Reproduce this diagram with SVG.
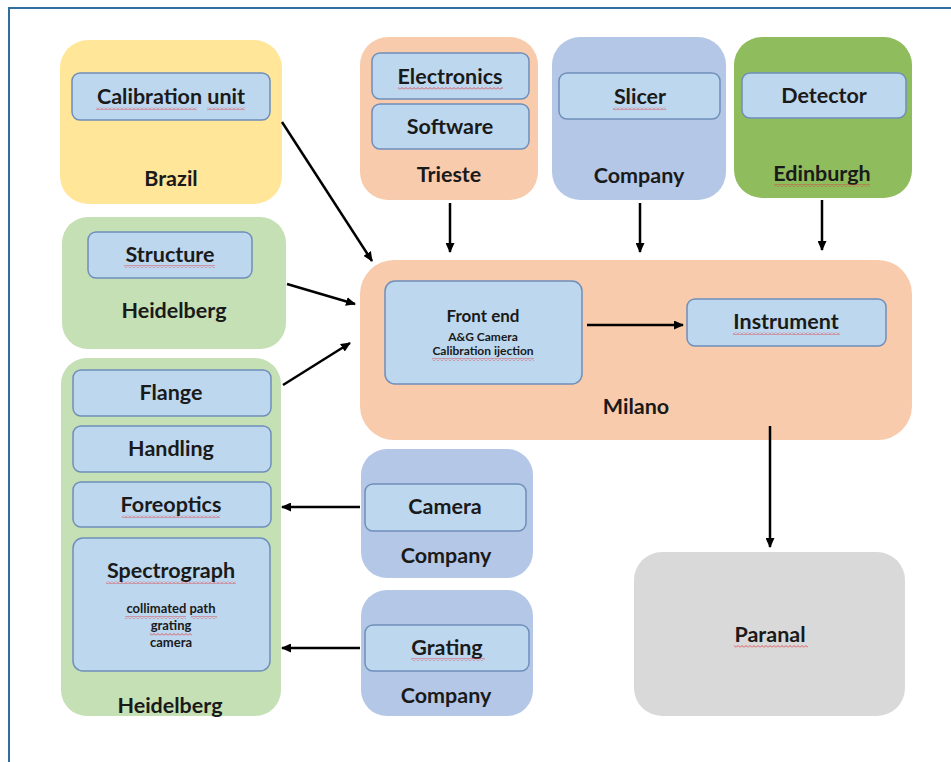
<svg xmlns="http://www.w3.org/2000/svg" width="951" height="762" viewBox="0 0 951 762">
<defs>
<style>
.t{font-family:Lato,"Liberation Sans",sans-serif;font-weight:bold;fill:#1a1a1a;text-anchor:middle;font-size:21.5px}
.m{font-size:17px}
.s{font-size:12px}
.s2{font-size:13px}
.in{fill:#BDD7EE;stroke:#6F8FBA;stroke-width:1.5}
.c{stroke:#000;stroke-width:2.5;fill:none;marker-end:url(#ah)}
.sq{fill:url(#wv)}
</style>
<marker id="ah" markerWidth="10" markerHeight="9" refX="9" refY="4.5" orient="auto" markerUnits="userSpaceOnUse">
<path d="M0,0 L10,4.5 L0,9 Z" fill="#000"/>
</marker>
<pattern id="wv" width="4" height="3" patternUnits="userSpaceOnUse">
<path d="M0,2.5 L2,0.5 L4,2.5" stroke="#E0363B" stroke-width="0.8" fill="none"/>
</pattern>
</defs>
<rect width="951" height="762" fill="#fff"/>
<path d="M9,762 V8 H951" stroke="#2F6F9F" stroke-width="2" fill="none"/>

<g id="brazil">
<rect x="60" y="40" width="222" height="164" rx="28" fill="#FFE699"/>
<rect class="in" x="72" y="73" width="198" height="47" rx="8"/>
<text class="t" x="171" y="104">Calibration unit</text>
<rect class="sq" x="96" y="107" width="101" height="3"/>
<rect class="sq" x="207" y="107" width="38" height="3"/>
<text class="t" x="171" y="186">Brazil</text>
</g>

<g id="heidelberg-structure">
<rect x="62" y="217" width="224" height="132" rx="26" fill="#C5E0B4"/>
<rect class="in" x="88" y="232" width="164" height="46" rx="8"/>
<text class="t" x="170" y="262">Structure</text>
<rect class="sq" x="124" y="265" width="91" height="3"/>
<text class="t" x="174" y="318">Heidelberg</text>
</g>

<g id="heidelberg-spectrograph">
<rect x="61" y="358" width="220" height="358" rx="26" fill="#C5E0B4"/>
<rect class="in" x="73" y="370" width="198" height="46" rx="8"/>
<text class="t" x="171" y="400">Flange</text>
<rect class="in" x="73" y="426" width="198" height="46" rx="8"/>
<text class="t" x="171" y="456">Handling</text>
<rect class="in" x="73" y="482" width="198" height="45" rx="8"/>
<text class="t" x="171" y="512">Foreoptics</text>
<rect class="sq" x="122" y="515" width="98" height="3"/>
<rect class="in" x="73" y="538" width="197" height="133" rx="10"/>
<text class="t" x="171" y="578">Spectrograph</text>
<rect class="sq" x="106" y="581" width="130" height="3"/>
<text class="t s2" x="171" y="613">collimated path</text>
<rect class="sq" x="125" y="616" width="61" height="3"/>
<rect class="sq" x="191" y="616" width="26" height="3"/>
<text class="t s2" x="171" y="630">grating</text>
<rect class="sq" x="150" y="633" width="42" height="3"/>
<text class="t s2" x="171" y="647">camera</text>
<text class="t" x="170" y="713">Heidelberg</text>
</g>

<g id="trieste">
<rect x="360" y="37" width="178" height="163" rx="28" fill="#F8CBAD"/>
<rect class="in" x="372" y="53" width="157" height="46" rx="8"/>
<text class="t" x="450" y="84">Electronics</text>
<rect class="sq" x="398" y="87" width="105" height="3"/>
<rect class="in" x="372" y="104" width="157" height="45" rx="8"/>
<text class="t" x="450" y="134">Software</text>
<text class="t" x="449" y="182">Trieste</text>
</g>

<g id="company-slicer">
<rect x="552" y="37" width="174" height="163" rx="28" fill="#B4C7E7"/>
<rect class="in" x="559" y="73" width="161" height="46" rx="8"/>
<text class="t" x="640" y="104">Slicer</text>
<rect class="sq" x="613" y="107" width="53" height="3"/>
<text class="t" x="639" y="183">Company</text>
</g>

<g id="edinburgh">
<rect x="734" y="37" width="178" height="161" rx="28" fill="#8FBC5C"/>
<rect class="in" x="742" y="73" width="164" height="45" rx="8"/>
<text class="t" x="824" y="103">Detector</text>
<text class="t" x="822" y="181">Edinburgh</text>
<rect class="sq" x="774" y="184" width="96" height="3"/>
</g>

<g id="milano">
<rect x="360" y="260" width="552" height="180" rx="34" fill="#F8CBAD"/>
<rect class="in" x="385" y="281" width="197" height="103" rx="10"/>
<text class="t m" x="483" y="322">Front end</text>
<text class="t s" x="483" y="341">A&amp;G Camera</text>
<text class="t s" x="483" y="355">Calibration ijection</text>
<rect class="sq" x="432" y="358" width="102" height="3"/>
<rect class="in" x="687" y="299" width="199" height="47" rx="8"/>
<text class="t" x="786" y="329">Instrument</text>
<rect class="sq" x="733" y="332" width="107" height="3"/>
<text class="t" x="636" y="414">Milano</text>
</g>

<g id="company-camera">
<rect x="361" y="449" width="172" height="129" rx="26" fill="#B4C7E7"/>
<rect class="in" x="365" y="484" width="161" height="47" rx="8"/>
<text class="t" x="445" y="514">Camera</text>
<text class="t" x="446" y="563">Company</text>
</g>

<g id="company-grating">
<rect x="361" y="590" width="172" height="126" rx="26" fill="#B4C7E7"/>
<rect class="in" x="365" y="625" width="164" height="46" rx="8"/>
<text class="t" x="447" y="655">Grating</text>
<rect class="sq" x="411" y="658" width="74" height="3"/>
<text class="t" x="446" y="703">Company</text>
</g>

<g id="paranal">
<rect x="634" y="552" width="271" height="164" rx="28" fill="#D9D9D9"/>
<text class="t" x="770" y="642">Paranal</text>
<rect class="sq" x="734" y="645" width="74" height="3"/>
</g>

<g id="connectors">
<line class="c" x1="282" y1="122" x2="372" y2="261"/>
<line class="c" x1="287" y1="284" x2="355" y2="304"/>
<line class="c" x1="283" y1="385" x2="350" y2="343"/>
<line class="c" x1="450" y1="203" x2="450" y2="252"/>
<line class="c" x1="640" y1="203" x2="640" y2="252"/>
<line class="c" x1="822" y1="200" x2="822" y2="250"/>
<line class="c" x1="587" y1="325" x2="683" y2="325"/>
<line class="c" x1="770" y1="426" x2="770" y2="547"/>
<line class="c" x1="360" y1="507" x2="282" y2="507"/>
<line class="c" x1="360" y1="648" x2="282" y2="648"/>
</g>
</svg>
